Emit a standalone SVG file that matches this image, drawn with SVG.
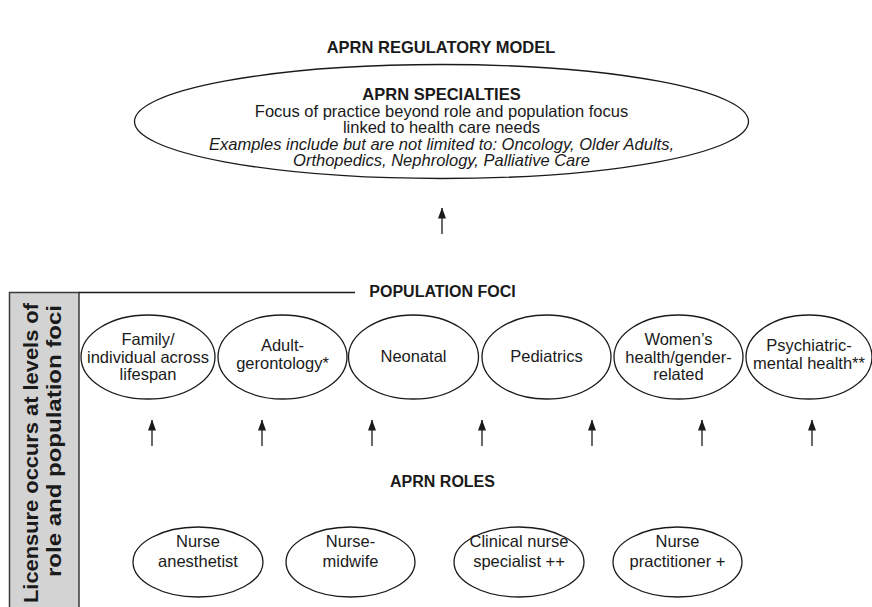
<svg xmlns="http://www.w3.org/2000/svg" width="872" height="607" viewBox="0 0 872 607">
<style>
text{font-family:"Liberation Sans",Arial,Helvetica,sans-serif;fill:#1a1a1a}
.n{font-size:16.5px;text-anchor:middle}
.h{font-size:16px;text-anchor:middle;font-weight:bold}
.b{font-weight:bold}
.i{font-style:italic}
.e{fill:#fff;stroke:#1a1a1a;stroke-width:1.3}
.c{stroke:#1a1a1a;stroke-width:1.3;fill:none}
</style>
<defs>
<marker id="ah" viewBox="0 0 11 8" refX="10.5" refY="4" markerWidth="11" markerHeight="8" markerUnits="userSpaceOnUse" orient="auto">
<path d="M0,0 L11,4 L0,8 Z" fill="#1a1a1a"/>
</marker>
</defs>
<rect width="872" height="607" fill="#fff"/>
<text id="title" class="h" x="441" y="53" style="font-size:16.5px">APRN REGULATORY MODEL</text>

<g id="specialties">
<ellipse class="e" cx="441.5" cy="121.5" rx="307" ry="57"/>
<text class="n b" x="441.5" y="100">APRN SPECIALTIES</text>
<text class="n" x="441.5" y="116.5">Focus of practice beyond role and population focus</text>
<text class="n" x="441.5" y="133">linked to health care needs</text>
<text class="n i" x="441.5" y="149.5">Examples include but are not limited to: Oncology, Older Adults,</text>
<text class="n i" x="441.5" y="166">Orthopedics, Nephrology, Palliative Care</text>
</g>

<g id="licensure">
<rect x="9.5" y="292.5" width="69.5" height="320" fill="#d3d3d3" stroke="#3a3a3a" stroke-width="1.5"/>
<text class="b" style="font-size:21px" transform="translate(38,603) rotate(-90)" textLength="300" lengthAdjust="spacingAndGlyphs">Licensure occurs at levels of</text>
<text class="b" style="font-size:21px" transform="translate(61,577) rotate(-90)" textLength="272" lengthAdjust="spacingAndGlyphs">role and population foci</text>
</g>

<g id="population-foci-label">
<line class="c" x1="79" y1="292.5" x2="355" y2="292.5"/>
<text class="h" x="442.5" y="297">POPULATION FOCI</text>
</g>

<g id="pf-family">
<ellipse class="e" cx="148" cy="357" rx="67" ry="42"/>
<text class="n" x="148" y="345">Family/</text>
<text class="n" x="148" y="362.5">individual across</text>
<text class="n" x="148" y="380">lifespan</text>
</g>
<g id="pf-adult">
<ellipse class="e" cx="282.5" cy="357" rx="64.5" ry="42"/>
<text class="n" x="282.5" y="350.5">Adult-</text>
<text class="n" x="282.5" y="368.5">gerontology*</text>
</g>
<g id="pf-neonatal">
<ellipse class="e" cx="413.5" cy="357" rx="65" ry="42"/>
<text class="n" x="413.5" y="361.5">Neonatal</text>
</g>
<g id="pf-pediatrics">
<ellipse class="e" cx="546.5" cy="357" rx="64.5" ry="42"/>
<text class="n" x="546.5" y="361.5">Pediatrics</text>
</g>
<g id="pf-womens">
<ellipse class="e" cx="678.5" cy="357" rx="64.5" ry="42"/>
<text class="n" x="678.5" y="345">Women’s</text>
<text class="n" x="678.5" y="362.5">health/gender-</text>
<text class="n" x="678.5" y="380">related</text>
</g>
<g id="pf-psych">
<ellipse class="e" cx="809" cy="357" rx="63" ry="42"/>
<text class="n" x="809" y="350.5">Psychiatric-</text>
<text class="n" x="809" y="368.5">mental health**</text>
</g>

<text id="roles-label" class="h" x="442.5" y="487">APRN ROLES</text>

<g id="role-crna">
<ellipse class="e" cx="198" cy="562" rx="65" ry="35"/>
<text class="n" x="198" y="547">Nurse</text>
<text class="n" x="198" y="567">anesthetist</text>
</g>
<g id="role-cnm">
<ellipse class="e" cx="350.5" cy="562" rx="64.5" ry="35"/>
<text class="n" x="350.5" y="547">Nurse-</text>
<text class="n" x="350.5" y="567">midwife</text>
</g>
<g id="role-cns">
<ellipse class="e" cx="519" cy="562" rx="65" ry="35"/>
<text class="n" x="519" y="547">Clinical nurse</text>
<text class="n" x="519" y="567">specialist ++</text>
</g>
<g id="role-np">
<ellipse class="e" cx="677.5" cy="562" rx="64.5" ry="35"/>
<text class="n" x="677.5" y="547">Nurse</text>
<text class="n" x="677.5" y="567">practitioner +</text>
</g>

<g id="connectors">
<line class="c" x1="442" y1="234" x2="442" y2="208" marker-end="url(#ah)"/>
<line class="c" x1="152" y1="446" x2="152" y2="420" marker-end="url(#ah)"/>
<line class="c" x1="262" y1="446" x2="262" y2="420" marker-end="url(#ah)"/>
<line class="c" x1="372" y1="446" x2="372" y2="420" marker-end="url(#ah)"/>
<line class="c" x1="482" y1="446" x2="482" y2="420" marker-end="url(#ah)"/>
<line class="c" x1="592" y1="446" x2="592" y2="420" marker-end="url(#ah)"/>
<line class="c" x1="702" y1="446" x2="702" y2="420" marker-end="url(#ah)"/>
<line class="c" x1="812" y1="446" x2="812" y2="420" marker-end="url(#ah)"/>
</g>
</svg>
